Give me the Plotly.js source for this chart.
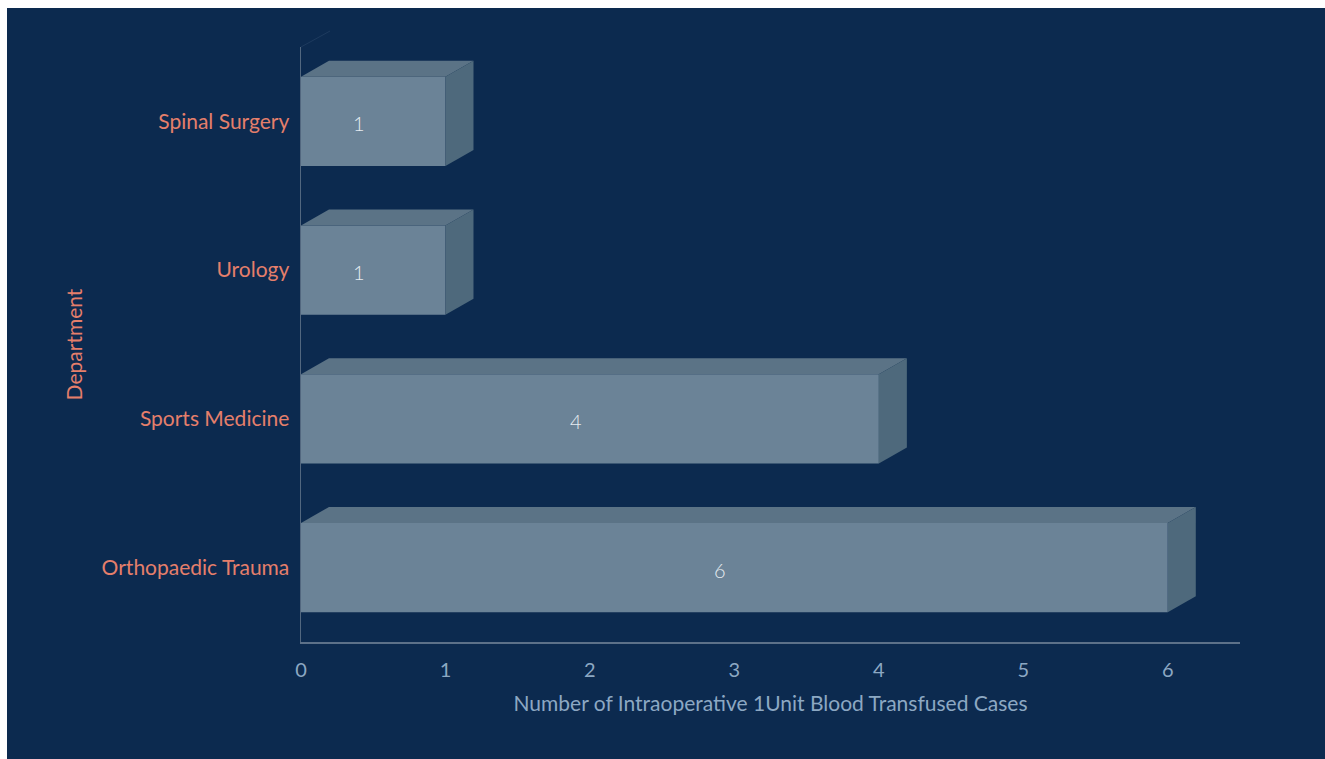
<!DOCTYPE html>
<html>
<head>
<meta charset="utf-8">
<script src="https://cdn.plot.ly/plotly-3.0.1.min.js"></script>
<style>
html,body{margin:0;padding:0;background:#ffffff;}
#chart{position:absolute;left:7px;top:8px;width:1318px;height:751px;}
</style>
</head>
<body>
<div id="chart"></div>
<script>
const departments = ["Orthopaedic Trauma", "Sports Medicine", "Urology", "Spinal Surgery"];
const cases = [6, 4, 1, 1];
const xTickValues = [0, 1, 2, 3, 4, 5, 6];

const BG = "#0c2a4f";
const FRONT = "#6b8397";
const TOP = "#5b7386";
const SIDE = "#4e697c";
const SALMON = "#e57f6b";
const BLUEGRAY = "#8ca8c3";

const barWidth = 0.6;
const depthX = 0.194;   // depth offset in x data units
const depthY = 0.108;   // depth offset in category units

const shapes = [];
const annotations = [];
departments.forEach((d, i) => {
  const v = cases[i];
  const yt = i + barWidth / 2;
  const yb = i - barWidth / 2;
  shapes.push({
    type: "path", xref: "x", yref: "y", layer: "above",
    path: `M 0 ${yt} L ${v} ${yt} L ${v + depthX} ${yt + depthY} L ${depthX} ${yt + depthY} Z`,
    fillcolor: TOP, line: {width: 0}
  });
  shapes.push({
    type: "path", xref: "x", yref: "y", layer: "above",
    path: `M ${v} ${yb} L ${v} ${yt} L ${v + depthX} ${yt + depthY} L ${v + depthX} ${yb + depthY} Z`,
    fillcolor: SIDE, line: {width: 0}
  });
  annotations.push({
    xref: "x", yref: "y", x: (v - depthX) / 2, y: i, yshift: -2,
    text: String(v), showarrow: false,
    font: {family: "Lato, sans-serif", size: 20, weight: 300, color: "#e6ecf1"}
  });
});
shapes.push({
  type: "line", xref: "paper", yref: "paper",
  x0: 0, y0: 1, x1: 29 / 939, y1: 1 + 16 / 595,
  line: {color: "#1d3a5e", width: 1}
});

const traces = [
  {
    type: "bar", orientation: "h",
    y: departments, x: cases, width: barWidth,
    marker: {color: FRONT, line: {width: 0}},
    hoverinfo: "x+y", showlegend: false
  }
];

const layout = {
  paper_bgcolor: BG, plot_bgcolor: BG,
  margin: {l: 294, r: 85, t: 39, b: 117, pad: 0},
  font: {family: "Lato, sans-serif"},
  showlegend: false,
  shapes: shapes,
  annotations: annotations,
  xaxis: {
    range: [0, 6.5], tickvals: xTickValues, ticktext: xTickValues.map(String),
    showgrid: false, zeroline: false,
    showline: true, linecolor: "#5d7189", linewidth: 1.5,
    ticks: "outside", ticklen: 9, tickcolor: "rgba(0,0,0,0)",
    tickfont: {family: "Lato, sans-serif", size: 20, color: BLUEGRAY},
    title: {text: "Number of Intraoperative 1Unit Blood Transfused Cases", standoff: 17,
            font: {family: "Lato, sans-serif", size: 21, color: BLUEGRAY}},
    automargin: false, fixedrange: true
  },
  yaxis: {
    type: "category", categoryorder: "array", categoryarray: departments,
    range: [-0.5, 3.5],
    showgrid: false, zeroline: false,
    showline: true, linecolor: "#52677f", linewidth: 1.5,
    ticks: "outside", ticklen: 6, tickcolor: "rgba(0,0,0,0)",
    tickfont: {family: "Lato, sans-serif", size: 21, color: SALMON},
    title: {text: "Department", standoff: 13,
            font: {family: "Lato, sans-serif", size: 21, color: SALMON}},
    automargin: false, fixedrange: true
  },
  bargap: 0.4
};

Plotly.newPlot("chart", traces, layout, {displayModeBar: false, staticPlot: true});
</script>
</body>
</html>
